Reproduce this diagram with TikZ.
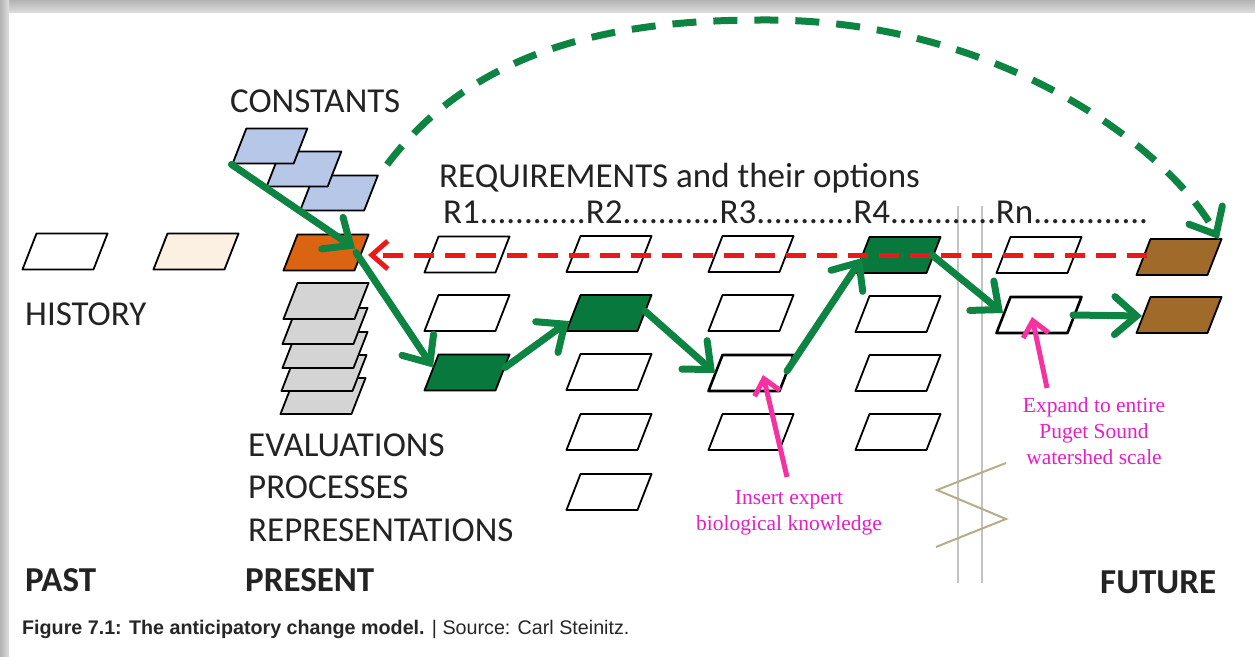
\documentclass[tikz,border=0pt]{standalone}
\usepackage{fontspec}
\newfontfamily\calfont{Carlito}
\newfontfamily\capfont{Liberation Sans}
\newfontfamily\pinkfont{Liberation Serif}
\usetikzlibrary{arrows.meta,calc}
\definecolor{garrow}{RGB}{14,132,66}
\definecolor{gfill}{RGB}{8,120,60}
\definecolor{rdash}{RGB}{235,25,25}
\definecolor{pinkarrow}{RGB}{245,50,160}
\definecolor{pinktext}{RGB}{230,30,200}
\definecolor{blueb}{RGB}{182,199,232}
\definecolor{grayb}{RGB}{212,212,212}
\definecolor{orangeb}{RGB}{218,100,18}
\definecolor{brownb}{RGB}{160,106,42}
\definecolor{creamb}{RGB}{252,240,226}
\definecolor{zigc}{RGB}{182,174,138}
\definecolor{vlinec}{RGB}{195,195,195}
\definecolor{txt}{RGB}{35,35,35}
\begin{document}
\begin{tikzpicture}[x=1pt,y=-1pt,
  pg/.style={shape=rectangle, minimum width=71pt, minimum height=36pt, inner sep=0pt,
    draw=black, line width=1.8pt, line join=round, fill=white, xslant=0.39, transform shape},
  cstbox/.style={minimum width=61pt, minimum height=35pt, fill=blueb},
  thickbox/.style={line width=2.6pt},
  lab/.style={inner sep=0pt, anchor=base west, text=txt, font=\calfont\fontsize{35}{42}\selectfont},
  labb/.style={lab, font=\calfont\bfseries\fontsize{35}{42}\selectfont},
  pinktxt/.style={inner sep=0pt, anchor=north, align=center, text=pinktext, font=\pinkfont\fontsize{21.5}{26}\selectfont},
  garr/.style={draw=garrow, line width=7pt, line cap=round, line join=round,
    -{Straight Barb[length=22pt,width=38pt,line cap=round]}},
  gdash/.style={garr, dash pattern=on 24pt off 17pt, line cap=butt},
  rarr/.style={draw=rdash, line width=5pt, dash pattern=on 20pt off 11pt,
    -{Straight Barb[length=16pt,width=28pt]}},
  parr/.style={draw=pinkarrow, line width=5pt, -{Straight Barb[length=15pt,width=26pt]}},
  vl/.style={draw=vlinec, line width=1.3pt},
  zigline/.style={draw=zigc, line width=2pt, line join=miter}
]
\useasboundingbox (0,0) rectangle (1255,656);
% frame
\fill[gray!40] (0,0) rectangle (1255,656);
\shade[top color=gray!60, bottom color=gray!25] (0,0) rectangle (1255,13);
\shade[left color=gray!60, right color=gray!25] (0,0) rectangle (9,656);
\fill[white] (9,13) rectangle (1255,656);

% separators
\draw[vl] (958,206) -- (958,583);
\draw[vl] (982,206) -- (982,583);
\draw[zigline] (1006,463) -- (937,490) -- (1006,519) -- (936,547);

% history / present
\node[shift={(65,251.5)}, pg] (h1) at (0,0) {};
\node[shift={(196,251.5)}, pg, fill=creamb] (h2) at (0,0) {};
\node[shift={(326,252.5)}, pg, fill=orangeb] (o) at (0,0) {};

% constants (back to front)
\node[shift={(339,193)}, pg, cstbox, minimum width=64pt] (k3) at (0,0) {};
\node[shift={(304,169)}, pg, cstbox] (k2) at (0,0) {};
\node[shift={(270,146)}, pg, cstbox] (k1) at (0,0) {};

% evaluations stack (bottom first)
\node[shift={(323,396)}, pg, fill=grayb] (g5) at (0,0) {};
\node[shift={(324,373)}, pg, fill=grayb] (g4) at (0,0) {};
\node[shift={(325,350)}, pg, fill=grayb] (g3) at (0,0) {};
\node[shift={(325,326)}, pg, fill=grayb] (g2) at (0,0) {};
\node[shift={(326,301)}, pg, fill=grayb] (g1) at (0,0) {};

% R1
\node[shift={(467,254.5)}, pg] (r1a) at (0,0) {};
\node[shift={(467,313)}, pg] (r1b) at (0,0) {};
\node[shift={(467,372.5)}, pg, fill=gfill] (r1c) at (0,0) {};
% R2
\node[shift={(609,254)}, pg] (r2a) at (0,0) {};
\node[shift={(609,313)}, pg, fill=gfill] (r2b) at (0,0) {};
\node[shift={(609,372)}, pg] (r2c) at (0,0) {};
\node[shift={(609,432)}, pg] (r2d) at (0,0) {};
\node[shift={(609,492)}, pg] (r2e) at (0,0) {};
% R3
\node[shift={(751,254)}, pg] (r3a) at (0,0) {};
\node[shift={(751,313)}, pg] (r3b) at (0,0) {};
\node[shift={(751,373)}, pg, thickbox] (r3c) at (0,0) {};
\node[shift={(751,432)}, pg] (r3d) at (0,0) {};
% R4
\node[shift={(898,255)}, pg, fill=gfill] (r4a) at (0,0) {};
\node[shift={(898,314)}, pg] (r4b) at (0,0) {};
\node[shift={(898,373)}, pg] (r4c) at (0,0) {};
\node[shift={(898,432)}, pg] (r4d) at (0,0) {};
% Rn
\node[shift={(1039,255)}, pg] (rna) at (0,0) {};
\node[shift={(1039,315)}, pg, thickbox] (rnb) at (0,0) {};
% future
\node[shift={(1179,257)}, pg, fill=brownb] (b1) at (0,0) {};
\node[shift={(1179,315)}, pg, fill=brownb] (b2) at (0,0) {};

% labels
\node[lab] (tcons) at (230,112) {CONSTANTS};
\node[lab] (thist) at (25,325) {HISTORY};
\node[lab] (treq) at (439,187) {REQUIREMENTS and their options};
\node[lab] (tr) at (443,223) {R1............R2...........R3...........R4............Rn.............};
\node[lab] (teval) at (248,456) {EVALUATIONS};
\node[lab] (tproc) at (248,498) {PROCESSES};
\node[lab] (trep) at (248,541) {REPRESENTATIONS};
\node[labb] (tpast) at (25,591) {PAST};
\node[labb] (tpres) at (245,591) {PRESENT};
\node[labb] (tfut) at (1100,593) {FUTURE};

\node[inner sep=0pt, anchor=base west, text=black!85] (cap) at (22,634)
  {\capfont\fontsize{19.7}{24}\selectfont\bfseries Figure 7.1: The anticipatory change model. \mdseries| Source: Carl Steinitz.};

\node[pinktxt] (ins) at (789,490) {Insert expert\\biological knowledge};
\node[pinktxt] (exp) at (1094,397) {Expand to entire\\Puget Sound\\watershed scale};

% red dashed arrow
\draw[rarr] ($(b1.center)+(-32,-2)$) -- ($(o.center)+(42,2.5)$);

% dashed green arc
\draw[gdash] ($(k3.north east)+(8,-10)$) .. controls (470,55) and (600,20) .. (760,20)
  .. controls (1000,18) and (1170,150) .. ($(b1.north east)+(-4,1)$);

% green path
\draw[garr] (k1.south west) -- ($(o.center)+(29,-4)$);
\draw[garr] ($(o.center)+(30,0)$) -- ($(r1c.center)+(-34,-5)$);
\draw[garr] ($(r1c.center)+(38,-5)$) -- ($(r2b.center)+(-40,8)$);
\draw[garr] ($(r2b.center)+(36,-2)$) -- ($(r3c.center)+(-36,0)$);
\draw[garr] ($(r3c.center)+(36,-2)$) -- ($(r4a.center)+(-36,3)$);
\draw[garr] ($(r4a.center)+(34,0)$) -- ($(rnb.center)+(-36,-2)$);
\draw[garr] ($(rnb.center)+(34,0)$) -- ($(b2.center)+(-37,1)$);

% pink arrows
\draw[parr] ($(ins.north)+(-2,-13)$) -- ($(r3c.center)+(12,2)$);
\coordinate (p2t) at (1047,388);
\draw[parr] (p2t) -- ($(rnb.center)+(-7,2)$);
\end{tikzpicture}
\end{document}
